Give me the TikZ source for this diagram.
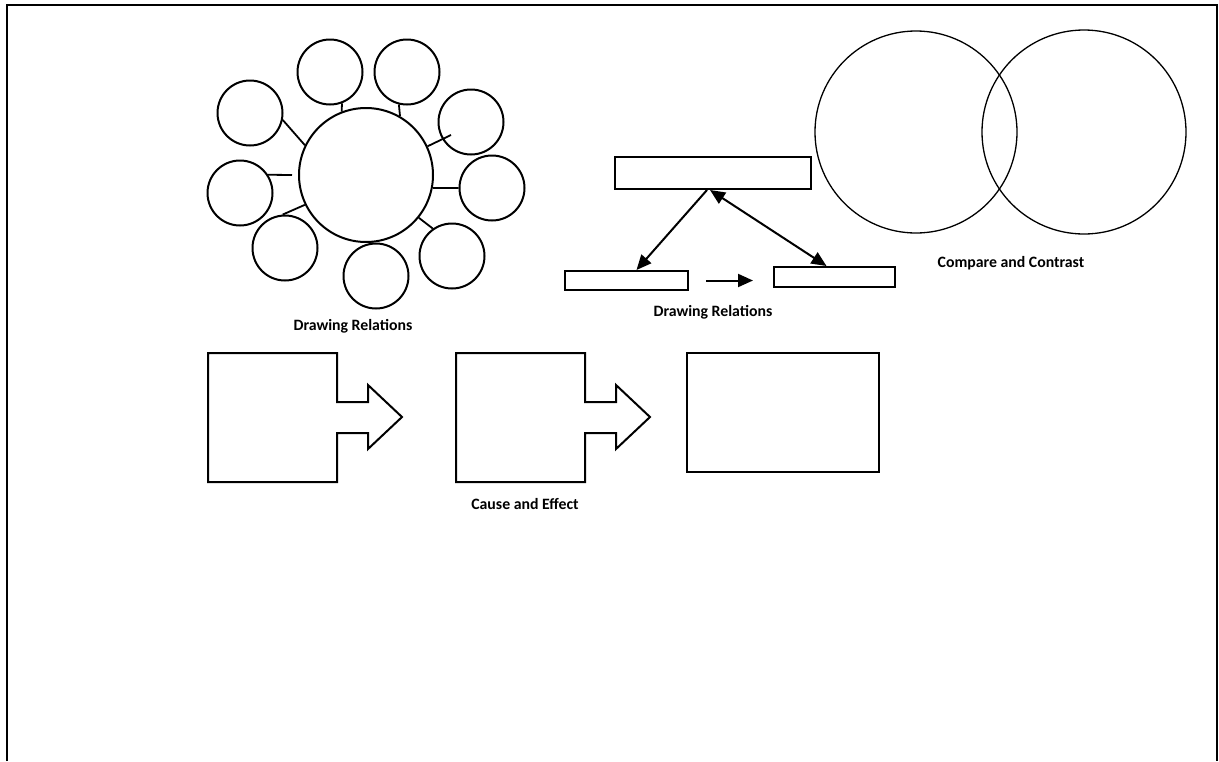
\documentclass[tikz,border=0pt]{standalone}
\usepackage{fontspec}
\setmainfont{Carlito}
\usetikzlibrary{arrows.meta}

\begin{document}
\begin{tikzpicture}[x=1pt,y=-1pt,
    bub/.style={draw, circle, line width=2pt, inner sep=0pt, minimum size=65pt},
    venn/.style={draw, circle, line width=1.3pt, inner sep=0pt},
    box/.style={draw, rectangle, line width=2pt, inner sep=0pt},
    stub/.style={line width=1.8pt},
    tri/.tip={Triangle[length=15pt,width=13pt]},
    arr/.style={line width=2pt, -tri},
    darr/.style={line width=2pt, tri-tri},
    lab/.style={anchor=base, font=\bfseries\fontsize{15.8}{18}\selectfont}]
    \useasboundingbox (0,0) rectangle (1219,761);
    \draw[line width=2pt] (7,761) -- (7,5) -- (1217,5) -- (1217,761);
    % bubble map
    \node[bub, minimum size=134pt] (hub) at (366,175) {};
    \node[bub] (ul) at (250,113) {};
    \node[bub] (t1) at (330,72) {};
    \node[bub] (t2) at (407,72) {};
    \node[bub] (ur) at (471,122) {};
    \node[bub] (r) at (492,188) {};
    \node[bub] (lr) at (452,256) {};
    \node[bub] (b) at (376,276) {};
    \node[bub] (ll) at (285,248) {};
    \node[bub] (l) at (240,193) {};
    \coordinate (urend) at (451,135);
    \coordinate (lend) at (292,175);
    \draw[stub] (hub.154) -- (ul.-12);
    \draw[stub] (hub.111) -- (t1.-69);
    \draw[stub] (hub.60) -- (t2.-104);
    \draw[stub] (hub.25) -- (urend);
    \draw[stub] (hub.-11) -- (r.180);
    \draw[stub] (hub.-39) -- (lr.125);
    \draw[stub] (hub.-84) -- (b.96);
    \draw[stub] (l.33) -- (lend);
    \draw[stub] (hub.206) -- (ll.94);
    \node[lab] (bubblelab) at (353,330) {Drawing Relations};
    % boxes and arrows
    \node[box, minimum width=196pt, minimum height=32pt] (tbox) at (713,173) {};
    \node[box, minimum width=123pt, minimum height=19pt] (lbox) at (626.5,280.5) {};
    \node[box, minimum width=121pt, minimum height=20pt] (rbox) at (834.5,277) {};
    \draw[arr] ([xshift=-6pt]tbox.south) -- ([xshift=10pt]lbox.north);
    \draw[darr] ([xshift=-3pt]tbox.south) -- ([xshift=-8pt]rbox.north);
    \draw[arr, shorten <=17pt, shorten >=20pt] (lbox.east) -- (lbox.east -| rbox.west);
    \node[lab] (flowlab) at (713,316) {Drawing Relations};
    % venn
    \node[venn, minimum size=202pt] (vl) at (916,132) {};
    \node[venn, minimum size=204pt] (vr) at (1084,132) {};
    \node[lab] (vennlab) at (1011,267.5) {Compare and Contrast};
    % cause and effect
    \foreach \dx in {0,248}
      \draw[line width=2pt] (208+\dx,353) -- (337+\dx,353) -- (337+\dx,402) -- (368+\dx,402)
        -- (368+\dx,385) -- (402+\dx,417) -- (368+\dx,449) -- (368+\dx,433) -- (337+\dx,433)
        -- (337+\dx,482) -- (208+\dx,482) -- cycle;
    \node[box, minimum width=192pt, minimum height=119pt] (ebox) at (783,412.5) {};
    \node[lab] (causelab) at (525,509) {Cause and Effect};
\end{tikzpicture}
\end{document}
